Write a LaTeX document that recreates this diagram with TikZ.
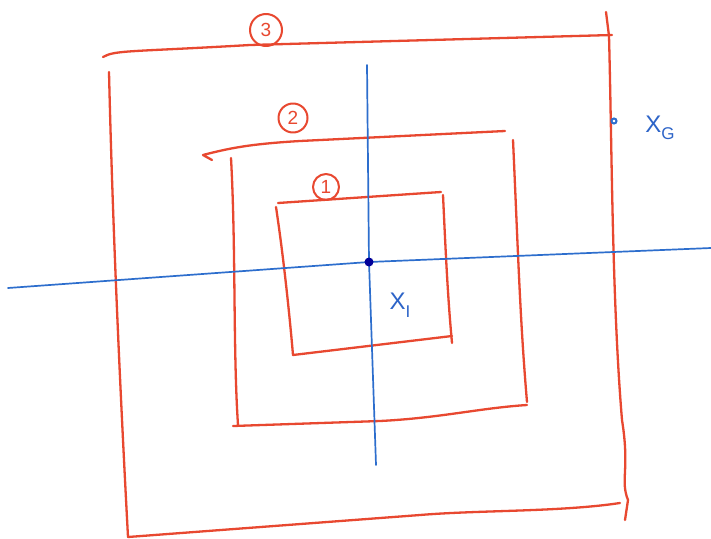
\documentclass[tikz,border=0pt]{standalone}
\usepackage{fontspec}
\setmainfont{Liberation Sans}
\begin{document}
\begin{tikzpicture}[x=1pt,y=-1pt,
  redline/.style={draw={rgb,255:red,232;green,72;blue,48}, line width=2.3pt, line cap=round, line join=round},
  blueline/.style={draw={rgb,255:red,45;green,110;blue,205}, line width=1.7pt, line cap=round},
  bluetext/.style={text={rgb,255:red,45;green,100;blue,200}, font=\fontsize{24}{26}\selectfont},
  redcirc/.style={redline, line width=2pt, circle, minimum size=#1, inner sep=0pt, text={rgb,255:red,232;green,72;blue,48}, font=\fontsize{19}{20}\selectfont}]
\useasboundingbox (0,0) rectangle (711,538);
\fill[white] (0,0) rectangle (711,538);
% outer region 3
\draw[redline] (103,57) .. controls (115,50) and (130,52) .. (250,45) -- (612,35);
\draw[redline] (109,72) .. controls (112,200) and (118,350) .. (128,537);
\draw[redline] (128,537) -- (420,515) .. controls (480,510) and (560,512) .. (620,503);
\draw[redline] (606,12) -- (609,36) .. controls (612,150) and (612,300) .. (622,420) .. controls (630,470) and (620,480) .. (628,500) -- (625,520);
% region 2
\draw[redline] (212,160) -- (203,155) .. controls (230,148) and (250,144) .. (300,141) -- (505,131);
\draw[redline] (231,158) .. controls (236,250) and (233,350) .. (238,425);
\draw[redline] (233,426) -- (380,421) .. controls (440,418) and (480,408) .. (527,405);
\draw[redline] (513,140) .. controls (518,250) and (520,320) .. (527,402);
% region 1
\draw[redline] (278,203) -- (441,192);
\draw[redline] (276,207) .. controls (284,260) and (290,320) .. (293,355);
\draw[redline] (293,355) -- (452,336);
\draw[redline] (443,195) .. controls (446,260) and (448,300) .. (452,343);
% labels
\node[redcirc=32pt] (c3) at (266,30) {3};
\node[redcirc=29pt] (c2) at (293,118) {2};
\node[redcirc=26pt] (c1) at (326,187) {1};
% axes
\draw[blueline] (8,288) -- (369,262) -- (711,248);
\draw[blueline] (367,65) -- (369,262) -- (376,465);
\fill[blue!60!black] (369,262) circle (4.5pt);
\node[blueline, circle, inner sep=0pt, minimum size=5pt, line width=2pt] (xg) at (614,121) {};
\node[bluetext] (lg) at (660,128) {X\raisebox{-0.6ex}{\fontsize{17}{18}\selectfont G}};
\node[bluetext] (li) at (400,305) {X\raisebox{-0.6ex}{\fontsize{17}{18}\selectfont I}};
\end{tikzpicture}
\end{document}
